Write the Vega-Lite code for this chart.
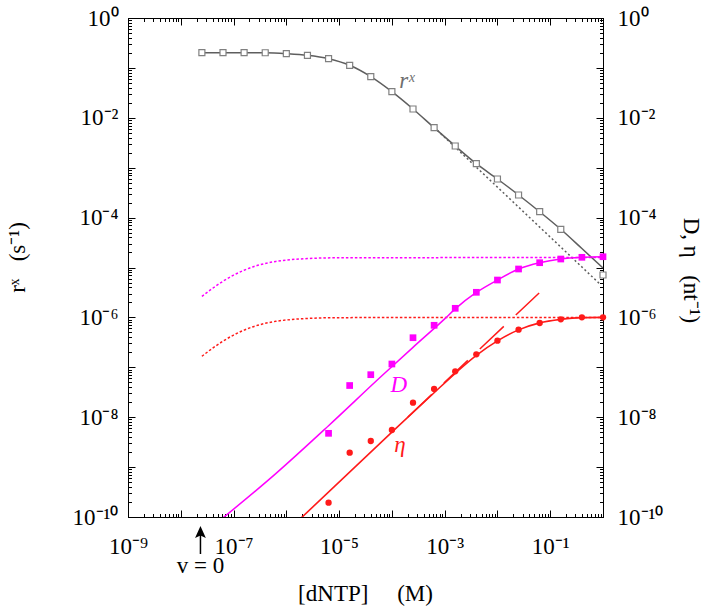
{
  "$schema": "https://vega.github.io/schema/vega-lite/v6.json",
  "width": 475,
  "height": 499,
  "autosize": {"type": "none"},
  "padding": {"left": 128, "top": 18, "right": 106, "bottom": 93},
  "background": "white",
  "datasets": {
    "lines": [
      {"s": "rx", "x": 2.512e-8, "y": 0.2018},
      {"s": "rx", "x": 6.31e-8, "y": 0.2018},
      {"s": "rx", "x": 1.585e-7, "y": 0.2018},
      {"s": "rx", "x": 3.981e-7, "y": 0.201},
      {"s": "rx", "x": 1e-6, "y": 0.1928},
      {"s": "rx", "x": 2.512e-6, "y": 0.1786},
      {"s": "rx", "x": 6.31e-6, "y": 0.1528},
      {"s": "rx", "x": 1.585e-5, "y": 0.1127},
      {"s": "rx", "x": 3.981e-5, "y": 0.0667},
      {"s": "rx", "x": 1e-4, "y": 0.03334},
      {"s": "rx", "x": 2.512e-4, "y": 0.015},
      {"s": "rx", "x": 6.31e-4, "y": 0.00634},
      {"s": "rx", "x": 1.585e-3, "y": 0.002723},
      {"s": "rx", "x": 3.981e-3, "y": 0.001202},
      {"s": "rx", "x": 0.01, "y": 5.94e-4},
      {"s": "rx", "x": 0.02512, "y": 2.838e-4},
      {"s": "rx", "x": 0.0631, "y": 1.312e-4},
      {"s": "rx", "x": 0.1585, "y": 5.83e-5},
      {"s": "rx", "x": 0.3981, "y": 2.4e-5},
      {"s": "rx", "x": 1, "y": 9.77e-6},
      {"s": "rxAsym", "x": 6.31e-4, "y": 6.457e-3},
      {"s": "rxAsym", "x": 0.8913, "y": 4.571e-6},
      {"s": "Dmax", "x": 2.512e-8, "y": 2.636e-6},
      {"s": "Dmax", "x": 3.981e-8, "y": 3.811e-6},
      {"s": "Dmax", "x": 6.31e-8, "y": 5.297e-6},
      {"s": "Dmax", "x": 1e-7, "y": 7.015e-6},
      {"s": "Dmax", "x": 1.585e-7, "y": 8.831e-6},
      {"s": "Dmax", "x": 2.512e-7, "y": 1.057e-5},
      {"s": "Dmax", "x": 3.981e-7, "y": 1.205e-5},
      {"s": "Dmax", "x": 6.31e-7, "y": 1.321e-5},
      {"s": "Dmax", "x": 1e-6, "y": 1.406e-5},
      {"s": "Dmax", "x": 2.512e-6, "y": 1.51e-5},
      {"s": "Dmax", "x": 1e-5, "y": 1.567e-5},
      {"s": "Dmax", "x": 1, "y": 1.585e-5},
      {"s": "etaMax", "x": 2.512e-8, "y": 1.663e-7},
      {"s": "etaMax", "x": 3.981e-8, "y": 2.404e-7},
      {"s": "etaMax", "x": 6.31e-8, "y": 3.342e-7},
      {"s": "etaMax", "x": 1e-7, "y": 4.426e-7},
      {"s": "etaMax", "x": 1.585e-7, "y": 5.572e-7},
      {"s": "etaMax", "x": 2.512e-7, "y": 6.668e-7},
      {"s": "etaMax", "x": 3.981e-7, "y": 7.603e-7},
      {"s": "etaMax", "x": 6.31e-7, "y": 8.337e-7},
      {"s": "etaMax", "x": 1e-6, "y": 8.872e-7},
      {"s": "etaMax", "x": 2.512e-6, "y": 9.528e-7},
      {"s": "etaMax", "x": 1e-5, "y": 9.886e-7},
      {"s": "etaMax", "x": 1, "y": 1e-6},
      {"s": "D", "x": 3.981e-8, "y": 6.457e-11},
      {"s": "D", "x": 6.31e-7, "y": 7.413e-10},
      {"s": "D", "x": 6.31e-6, "y": 6.761e-9},
      {"s": "D", "x": 6.31e-5, "y": 6.607e-8},
      {"s": "D", "x": 2.512e-4, "y": 2.512e-7},
      {"s": "D", "x": 1e-3, "y": 9.333e-7},
      {"s": "D", "x": 1.585e-3, "y": 1.479e-6},
      {"s": "D", "x": 3.981e-3, "y": 3.162e-6},
      {"s": "D", "x": 0.01, "y": 5.623e-6},
      {"s": "D", "x": 0.02512, "y": 9.333e-6},
      {"s": "D", "x": 0.0631, "y": 1.245e-5},
      {"s": "D", "x": 0.1585, "y": 1.479e-5},
      {"s": "D", "x": 0.3981, "y": 1.596e-5},
      {"s": "D", "x": 1, "y": 1.641e-5},
      {"s": "eta", "x": 1.259e-6, "y": 6.31e-11},
      {"s": "eta", "x": 1e-4, "y": 5.012e-9},
      {"s": "eta", "x": 6.31e-4, "y": 3.09e-8},
      {"s": "eta", "x": 1.585e-3, "y": 7.586e-8},
      {"s": "eta", "x": 3.981e-3, "y": 1.738e-7},
      {"s": "eta", "x": 0.01, "y": 3.388e-7},
      {"s": "eta", "x": 0.02512, "y": 5.623e-7},
      {"s": "eta", "x": 0.0631, "y": 7.762e-7},
      {"s": "eta", "x": 0.1585, "y": 9.12e-7},
      {"s": "eta", "x": 0.3981, "y": 9.886e-7},
      {"s": "eta", "x": 1, "y": 1e-6},
      {"s": "etaAsym", "x": 2.009e-4, "y": 1.007e-8},
      {"s": "etaAsym", "x": 0.06166, "y": 3.09e-6}
    ],
    "pts": [
      {"s": "rx", "x": 2.512e-8, "y": 0.2018},
      {"s": "rx", "x": 6.31e-8, "y": 0.2018},
      {"s": "rx", "x": 1.585e-7, "y": 0.2018},
      {"s": "rx", "x": 3.981e-7, "y": 0.201},
      {"s": "rx", "x": 1e-6, "y": 0.1928},
      {"s": "rx", "x": 2.512e-6, "y": 0.1786},
      {"s": "rx", "x": 6.31e-6, "y": 0.1528},
      {"s": "rx", "x": 1.585e-5, "y": 0.1127},
      {"s": "rx", "x": 3.981e-5, "y": 0.0667},
      {"s": "rx", "x": 1e-4, "y": 0.03334},
      {"s": "rx", "x": 2.512e-4, "y": 0.015},
      {"s": "rx", "x": 6.31e-4, "y": 0.00634},
      {"s": "rx", "x": 1.585e-3, "y": 0.002723},
      {"s": "rx", "x": 3.981e-3, "y": 0.001202},
      {"s": "rx", "x": 0.01, "y": 5.94e-4},
      {"s": "rx", "x": 0.02512, "y": 2.838e-4},
      {"s": "rx", "x": 0.0631, "y": 1.312e-4},
      {"s": "rx", "x": 0.1585, "y": 5.83e-5},
      {"s": "rx", "x": 1, "y": 7.08e-6},
      {"s": "D", "x": 6.31e-6, "y": 4.753e-9},
      {"s": "D", "x": 1.585e-5, "y": 4.315e-8},
      {"s": "D", "x": 3.981e-5, "y": 7.112e-8},
      {"s": "D", "x": 1e-4, "y": 1.164e-7},
      {"s": "D", "x": 2.512e-4, "y": 3.917e-7},
      {"s": "D", "x": 6.31e-4, "y": 6.95e-7},
      {"s": "D", "x": 1.585e-3, "y": 1.521e-6},
      {"s": "D", "x": 3.981e-3, "y": 3.184e-6},
      {"s": "D", "x": 0.01, "y": 5.61e-6},
      {"s": "D", "x": 0.02512, "y": 9.333e-6},
      {"s": "D", "x": 0.0631, "y": 1.247e-5},
      {"s": "D", "x": 0.1585, "y": 1.479e-5},
      {"s": "D", "x": 0.3981, "y": 1.6e-5},
      {"s": "D", "x": 1, "y": 1.644e-5},
      {"s": "eta", "x": 6.31e-6, "y": 1.936e-10},
      {"s": "eta", "x": 1.585e-5, "y": 1.945e-9},
      {"s": "eta", "x": 3.981e-5, "y": 3.334e-9},
      {"s": "eta", "x": 1e-4, "y": 5.534e-9},
      {"s": "eta", "x": 2.512e-4, "y": 1.954e-8},
      {"s": "eta", "x": 6.31e-4, "y": 3.673e-8},
      {"s": "eta", "x": 1.585e-3, "y": 8.299e-8},
      {"s": "eta", "x": 3.981e-3, "y": 1.82e-7},
      {"s": "eta", "x": 0.01, "y": 3.412e-7},
      {"s": "eta", "x": 0.02512, "y": 5.675e-7},
      {"s": "eta", "x": 0.0631, "y": 7.727e-7},
      {"s": "eta", "x": 0.1585, "y": 9.162e-7},
      {"s": "eta", "x": 0.3981, "y": 1.005e-6},
      {"s": "eta", "x": 1, "y": 1.005e-6}
    ],
    "labels": [
      {"s": "rx", "t": "rˣ", "x": 1.923e-4, "y": 0.0395},
      {"s": "D", "t": "D", "x": 1.358e-4, "y": 3.2e-8},
      {"s": "eta", "t": "η", "x": 1.419e-4, "y": 2.01e-9}
    ],
    "arrow": [
      {"part": "shaft", "x": 2.36e-8, "y": 5.01e-11, "y2": 1.815e-11},
      {"part": "head", "x": 2.36e-8, "y": 5.01e-11},
      {"part": "text", "x": 2.36e-8, "y": 7.55e-12, "t": "v = 0"}
    ]
  },
  "encoding": {
    "x": {"field": "x", "type": "quantitative", "scale": {"type": "log", "domain": [1e-9, 1], "nice": false}, "axis": null},
    "y": {"field": "y", "type": "quantitative", "scale": {"type": "log", "domain": [1e-10, 1], "nice": false}, "axis": null}
  },
  "layer": [
    {
      "data": {"name": "lines"},
      "transform": [{"filter": "datum.s == 'Dmax'"}],
      "mark": {"type": "line", "color": "#ff00ff", "strokeWidth": 1.5, "strokeDash": [2.5, 2], "interpolate": "monotone", "clip": true}
    },
    {
      "data": {"name": "lines"},
      "transform": [{"filter": "datum.s == 'etaMax'"}],
      "mark": {"type": "line", "color": "#ff1a1a", "strokeWidth": 1.5, "strokeDash": [2.5, 2], "interpolate": "monotone", "clip": true}
    },
    {
      "data": {"name": "lines"},
      "transform": [{"filter": "datum.s == 'rxAsym'"}],
      "mark": {"type": "line", "color": "#5e5e5e", "strokeWidth": 1.5, "strokeDash": [2, 2.5], "clip": true},
      "encoding": {
        "x": {
          "field": "x", "type": "quantitative",
          "scale": {"type": "log", "domain": [1e-9, 1], "nice": false},
          "axis": {
            "orient": "top", "labels": false, "title": null,
            "values": [1e-9, 2e-9, 3e-9, 4e-9, 5e-9, 6e-9, 7e-9, 8e-9, 9e-9, 1e-8, 2e-8, 3e-8, 4e-8, 5e-8, 6e-8, 7e-8, 8e-8, 9e-8, 1e-7, 2e-7, 3e-7, 4e-7, 5e-7, 6e-7, 7e-7, 8e-7, 9e-7, 1e-6, 2e-6, 3e-6, 4e-6, 5e-6, 6e-6, 7e-6, 8e-6, 9e-6, 1e-5, 2e-5, 3e-5, 4e-5, 5e-5, 6e-5, 7e-5, 8e-5, 9e-5, 1e-4, 2e-4, 3e-4, 4e-4, 5e-4, 6e-4, 7e-4, 8e-4, 9e-4, 0.001, 0.002, 0.003, 0.004, 0.005, 0.006, 0.007, 0.008, 0.009, 0.01, 0.02, 0.03, 0.04, 0.05, 0.06, 0.07, 0.08, 0.09, 0.1, 0.2, 0.3, 0.4, 0.5, 0.6, 0.7, 0.8, 0.9, 1],
            "tickSize": {"condition": {"test": "abs(log(datum.value)/LN10 - round(log(datum.value)/LN10)) < 0.001", "value": -7}, "value": -3.5}
          }
        },
        "y": {
          "field": "y", "type": "quantitative",
          "scale": {"type": "log", "domain": [1e-10, 1], "nice": false},
          "axis": {
            "orient": "right",
            "values": [1e-10, 2e-10, 3e-10, 4e-10, 5e-10, 6e-10, 7e-10, 8e-10, 9e-10, 1e-9, 2e-9, 3e-9, 4e-9, 5e-9, 6e-9, 7e-9, 8e-9, 9e-9, 1e-8, 2e-8, 3e-8, 4e-8, 5e-8, 6e-8, 7e-8, 8e-8, 9e-8, 1e-7, 2e-7, 3e-7, 4e-7, 5e-7, 6e-7, 7e-7, 8e-7, 9e-7, 1e-6, 2e-6, 3e-6, 4e-6, 5e-6, 6e-6, 7e-6, 8e-6, 9e-6, 1e-5, 2e-5, 3e-5, 4e-5, 5e-5, 6e-5, 7e-5, 8e-5, 9e-5, 1e-4, 2e-4, 3e-4, 4e-4, 5e-4, 6e-4, 7e-4, 8e-4, 9e-4, 0.001, 0.002, 0.003, 0.004, 0.005, 0.006, 0.007, 0.008, 0.009, 0.01, 0.02, 0.03, 0.04, 0.05, 0.06, 0.07, 0.08, 0.09, 0.1, 0.2, 0.3, 0.4, 0.5, 0.6, 0.7, 0.8, 0.9, 1],
            "labelExpr": "abs(log(datum.value)/LN10 - round(log(datum.value)/LN10)) < 0.001 && abs(round(log(datum.value)/LN10)) % 2 == 0 ? '10' + replace(replace(replace(replace(replace(replace(replace(replace(replace(replace(replace(toString(round(log(datum.value)/LN10)),'-','⁻'),'0','⁰'),'1','¹'),'2','²'),'3','³'),'4','⁴'),'5','⁵'),'6','⁶'),'7','⁷'),'8','⁸'),'9','⁹') : ''",
            "tickSize": {"condition": {"test": "abs(log(datum.value)/LN10 - round(log(datum.value)/LN10)) < 0.001", "value": -7}, "value": -3.5},
            "labelPadding": 21,
            "labelAlign": "left",
            "title": "D, η\u00a0\u00a0\u00a0(nt⁻¹)",
            "titleAngle": 90,
            "titleX": 87,
            "titleY": 252,
            "titleAlign": "center",
            "titleBaseline": "middle"
          }
        }
      }
    },
    {
      "data": {"name": "lines"},
      "transform": [{"filter": "datum.s == 'rx'"}],
      "mark": {"type": "line", "color": "#5e5e5e", "strokeWidth": 1.5, "interpolate": "monotone", "clip": true},
      "encoding": {
        "x": {
          "field": "x", "type": "quantitative",
          "scale": {"type": "log", "domain": [1e-9, 1], "nice": false},
          "axis": {
            "orient": "bottom",
            "values": [1e-9, 2e-9, 3e-9, 4e-9, 5e-9, 6e-9, 7e-9, 8e-9, 9e-9, 1e-8, 2e-8, 3e-8, 4e-8, 5e-8, 6e-8, 7e-8, 8e-8, 9e-8, 1e-7, 2e-7, 3e-7, 4e-7, 5e-7, 6e-7, 7e-7, 8e-7, 9e-7, 1e-6, 2e-6, 3e-6, 4e-6, 5e-6, 6e-6, 7e-6, 8e-6, 9e-6, 1e-5, 2e-5, 3e-5, 4e-5, 5e-5, 6e-5, 7e-5, 8e-5, 9e-5, 1e-4, 2e-4, 3e-4, 4e-4, 5e-4, 6e-4, 7e-4, 8e-4, 9e-4, 0.001, 0.002, 0.003, 0.004, 0.005, 0.006, 0.007, 0.008, 0.009, 0.01, 0.02, 0.03, 0.04, 0.05, 0.06, 0.07, 0.08, 0.09, 0.1, 0.2, 0.3, 0.4, 0.5, 0.6, 0.7, 0.8, 0.9, 1],
            "labelExpr": "abs(log(datum.value)/LN10 - round(log(datum.value)/LN10)) < 0.001 && abs(round(log(datum.value)/LN10)) % 2 == 1 ? '10' + replace(replace(replace(replace(replace(replace(replace(replace(replace(replace(replace(toString(round(log(datum.value)/LN10)),'-','⁻'),'0','⁰'),'1','¹'),'2','²'),'3','³'),'4','⁴'),'5','⁵'),'6','⁶'),'7','⁷'),'8','⁸'),'9','⁹') : ''",
            "tickSize": {"condition": {"test": "abs(log(datum.value)/LN10 - round(log(datum.value)/LN10)) < 0.001", "value": -7}, "value": -3.5},
            "labelPadding": 25,
            "title": "[dNTP]\u00a0\u00a0\u00a0\u00a0\u00a0(M)",
            "titleX": 237,
            "titleY": 83,
            "titleAlign": "center",
            "titleBaseline": "alphabetic"
          }
        },
        "y": {
          "field": "y", "type": "quantitative",
          "scale": {"type": "log", "domain": [1e-10, 1], "nice": false},
          "axis": {
            "orient": "left",
            "values": [1e-10, 2e-10, 3e-10, 4e-10, 5e-10, 6e-10, 7e-10, 8e-10, 9e-10, 1e-9, 2e-9, 3e-9, 4e-9, 5e-9, 6e-9, 7e-9, 8e-9, 9e-9, 1e-8, 2e-8, 3e-8, 4e-8, 5e-8, 6e-8, 7e-8, 8e-8, 9e-8, 1e-7, 2e-7, 3e-7, 4e-7, 5e-7, 6e-7, 7e-7, 8e-7, 9e-7, 1e-6, 2e-6, 3e-6, 4e-6, 5e-6, 6e-6, 7e-6, 8e-6, 9e-6, 1e-5, 2e-5, 3e-5, 4e-5, 5e-5, 6e-5, 7e-5, 8e-5, 9e-5, 1e-4, 2e-4, 3e-4, 4e-4, 5e-4, 6e-4, 7e-4, 8e-4, 9e-4, 0.001, 0.002, 0.003, 0.004, 0.005, 0.006, 0.007, 0.008, 0.009, 0.01, 0.02, 0.03, 0.04, 0.05, 0.06, 0.07, 0.08, 0.09, 0.1, 0.2, 0.3, 0.4, 0.5, 0.6, 0.7, 0.8, 0.9, 1],
            "labelExpr": "abs(log(datum.value)/LN10 - round(log(datum.value)/LN10)) < 0.001 && abs(round(log(datum.value)/LN10)) % 2 == 0 ? '10' + replace(replace(replace(replace(replace(replace(replace(replace(replace(replace(replace(toString(round(log(datum.value)/LN10)),'-','⁻'),'0','⁰'),'1','¹'),'2','²'),'3','³'),'4','⁴'),'5','⁵'),'6','⁶'),'7','⁷'),'8','⁸'),'9','⁹') : ''",
            "tickSize": {"condition": {"test": "abs(log(datum.value)/LN10 - round(log(datum.value)/LN10)) < 0.001", "value": -7}, "value": -3.5},
            "labelPadding": 17,
            "labelAlign": "right",
            "title": "rˣ\u00a0\u00a0\u00a0(s⁻¹)",
            "titleAngle": -90,
            "titleX": -111,
            "titleY": 239,
            "titleAlign": "center",
            "titleBaseline": "middle"
          }
        }
      }
    },
    {
      "data": {"name": "lines"},
      "transform": [{"filter": "datum.s == 'D'"}],
      "mark": {"type": "line", "color": "#ff00ff", "strokeWidth": 1.5, "interpolate": "monotone", "clip": true}
    },
    {
      "data": {"name": "lines"},
      "transform": [{"filter": "datum.s == 'eta'"}],
      "mark": {"type": "line", "color": "#ff1a1a", "strokeWidth": 1.6, "interpolate": "monotone", "clip": true}
    },
    {
      "data": {"name": "lines"},
      "transform": [{"filter": "datum.s == 'etaAsym'"}],
      "mark": {"type": "line", "color": "#ff1a1a", "strokeWidth": 1.5, "strokeDash": [33, 16.5], "clip": true}
    },
    {
      "data": {"name": "pts"},
      "transform": [{"filter": "datum.s == 'rx'"}],
      "mark": {"type": "point", "shape": "square", "filled": true, "fill": "white", "stroke": "#808080", "strokeWidth": 1.2, "size": 36, "opacity": 1}
    },
    {
      "data": {"name": "pts"},
      "transform": [{"filter": "datum.s == 'D'"}],
      "mark": {"type": "square", "color": "#ff00ff", "size": 45, "opacity": 1}
    },
    {
      "data": {"name": "pts"},
      "transform": [{"filter": "datum.s == 'eta'"}],
      "mark": {"type": "circle", "color": "#ff1a1a", "size": 40, "opacity": 1}
    },
    {
      "data": {"name": "labels"},
      "mark": {"type": "text", "fontSize": 23, "fontStyle": "italic", "align": "center", "baseline": "alphabetic"},
      "encoding": {
        "text": {"field": "t"},
        "color": {"field": "s", "type": "nominal", "scale": {"domain": ["rx", "D", "eta"], "range": ["#6e6e6e", "#ff00ff", "#ff1a1a"]}, "legend": null}
      }
    },
    {
      "data": {"name": "arrow"},
      "transform": [{"filter": "datum.part == 'shaft'"}],
      "mark": {"type": "rule", "color": "black", "strokeWidth": 1.5},
      "encoding": {"y2": {"field": "y2"}}
    },
    {
      "data": {"name": "arrow"},
      "transform": [{"filter": "datum.part == 'head'"}],
      "mark": {"type": "point", "shape": "M0,-1L0.9,1L0,0.6L-0.9,1Z", "filled": true, "color": "black", "size": 144, "opacity": 1}
    },
    {
      "data": {"name": "arrow"},
      "transform": [{"filter": "datum.part == 'text'"}],
      "mark": {"type": "text", "fontSize": 23, "color": "black", "align": "center", "baseline": "alphabetic"},
      "encoding": {"text": {"field": "t"}}
    }
  ],
  "resolve": {"axis": {"x": "independent", "y": "independent"}},
  "config": {
    "view": {"stroke": "black", "strokeWidth": 1},
    "font": "Liberation Serif",
    "text": {"font": "Liberation Serif"},
    "axis": {
      "grid": false,
      "domainColor": "black",
      "domainWidth": 1,
      "tickColor": "black",
      "tickWidth": 1,
      "labelColor": "black",
      "titleColor": "black",
      "labelFont": "Liberation Serif",
      "titleFont": "Liberation Serif",
      "labelFontSize": 23,
      "titleFontSize": 23,
      "titleFontWeight": "normal",
      "labelFlush": false,
      "labelOverlap": false,
      "labelBound": false
    }
  }
}
